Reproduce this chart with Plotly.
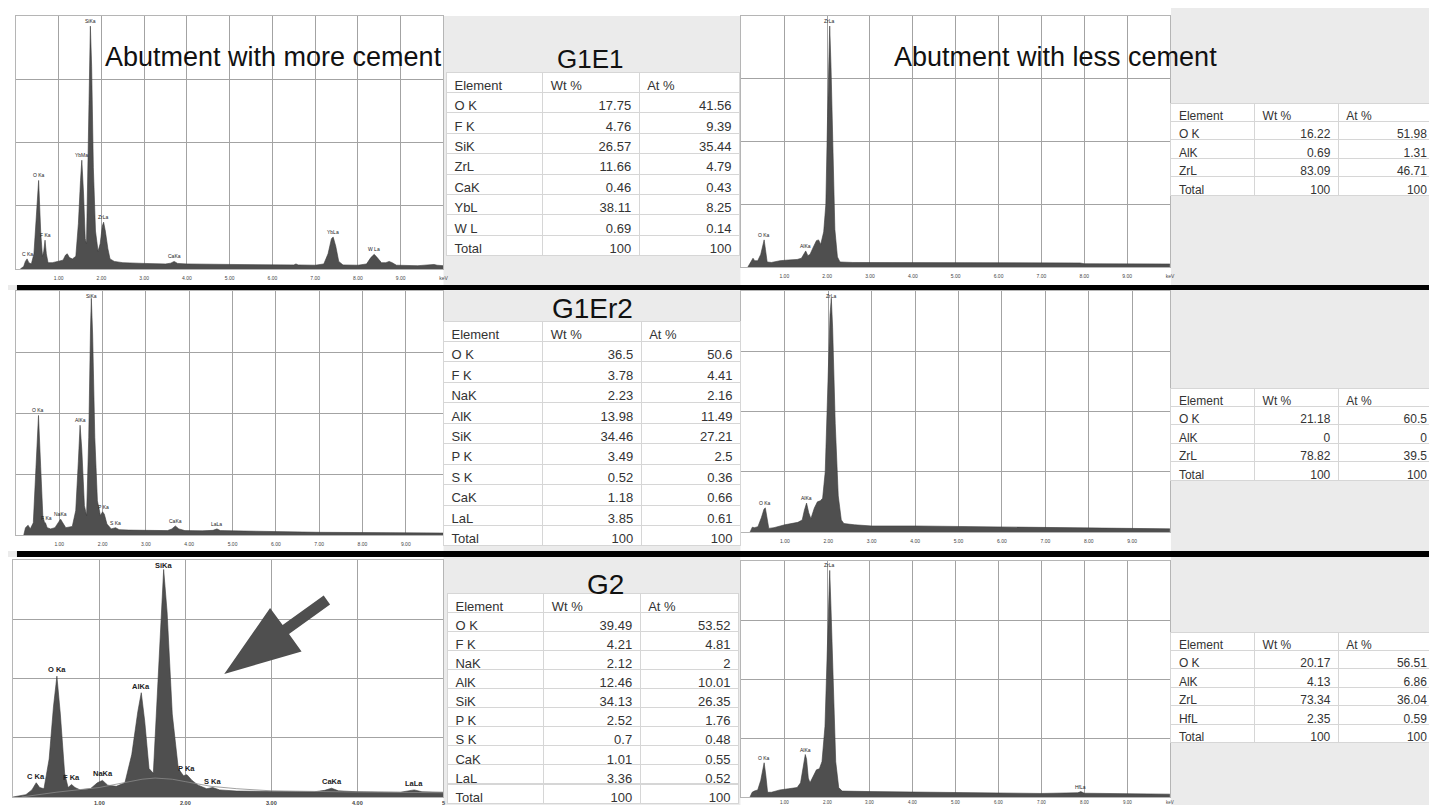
import plotly.graph_objects as go

W, H = 1437, 805
FONT = "Liberation Sans, Arial, sans-serif"

# ---------------- spectra data (keV, relative intensity % of full scale) ----------------
l1_kev = [0.10, 0.18, 0.22, 0.26, 0.30, 0.36, 0.42, 0.47, 0.53, 0.58, 0.62, 0.65, 0.68, 0.71, 0.75, 0.85,
          1.00, 1.10, 1.16, 1.20, 1.25, 1.32, 1.40, 1.46, 1.51, 1.54, 1.58, 1.62, 1.65, 1.69, 1.72, 1.74,
          1.77, 1.81, 1.86, 1.92, 1.97, 2.02, 2.05, 2.09, 2.15, 2.20, 2.30, 2.50, 3.00, 3.50, 3.62, 3.70,
          3.78, 4.00, 5.00, 6.00, 6.50, 6.55, 6.60, 7.00, 7.20, 7.30, 7.38, 7.42, 7.48, 7.55, 7.65, 8.00,
          8.20, 8.30, 8.38, 8.45, 8.55, 8.65, 8.73, 8.80, 8.90, 9.40, 9.70, 9.78, 9.85, 10.0]
l1_cnt = [0, 1, 3, 4, 2.5, 2, 6, 20, 35, 14, 5, 7, 11.4, 6, 2.5, 2.5,
          3, 3.5, 5.5, 6, 4.5, 4, 5, 18, 35, 43, 30, 12, 10, 45, 85, 96,
          80, 40, 15, 7, 10, 17, 18.5, 15, 8, 4, 3, 2.5, 2.2, 2, 2.3, 3,
          2.2, 2, 1.8, 1.6, 1.6, 2, 1.6, 1.5, 2, 6, 12, 12.6, 9, 3, 1.6, 1.5,
          2, 4.5, 5.8, 4.5, 2.5, 2.5, 3, 2.5, 1.5, 1.3, 1.5, 1.8, 1.5, 1.3]

l2_kev = [0.18, 0.22, 0.28, 0.33, 0.40, 0.46, 0.52, 0.57, 0.62, 0.66, 0.68, 0.72, 0.80, 0.90, 0.98, 1.03,
          1.08, 1.15, 1.30, 1.38, 1.44, 1.48, 1.52, 1.58, 1.63, 1.68, 1.72, 1.74, 1.77, 1.82, 1.88, 1.95,
          2.00, 2.04, 2.10, 2.20, 2.30, 2.38, 2.60, 3.00, 3.50, 3.60, 3.68, 3.76, 3.90, 4.30, 4.55, 4.64,
          4.72, 5.00, 6.00, 7.00, 8.00, 9.00, 9.87]
l2_cnt = [0, 3, 4, 2.5, 5, 25, 49, 28, 8, 5, 5, 3, 2.5, 3, 5, 6.5,
          5, 3, 3.5, 10, 30, 45, 35, 12, 8, 40, 84, 97, 82, 40, 14, 8,
          9.5, 8.5, 4.5, 2.5, 3, 2.2, 2, 2, 1.8, 2.5, 3.7, 2.5, 1.8, 1.7, 1.9, 2.5,
          1.8, 1.7, 1.3, 1.1, 1.0, 0.9, 0.8]

l3_kev = [0.00, 0.15, 0.22, 0.27, 0.31, 0.36, 0.42, 0.47, 0.51, 0.55, 0.60, 0.64, 0.68, 0.72, 0.78, 0.90,
          0.98, 1.04, 1.10, 1.20, 1.30, 1.38, 1.45, 1.49, 1.53, 1.58, 1.63, 1.67, 1.72, 1.75, 1.79, 1.85,
          1.92, 1.98, 2.02, 2.08, 2.15, 2.25, 2.32, 2.40, 2.60, 3.00, 3.50, 3.62, 3.70, 3.78, 4.00, 4.50,
          4.60, 4.66, 4.75, 5.00]
l3_cnt = [0, 1, 3, 6, 4, 3.5, 16, 38, 51, 35, 10, 4, 5.3, 4, 3, 3.5,
          6, 7, 5, 4.5, 6, 18, 36, 44, 32, 12, 10, 40, 80, 96, 78, 35,
          12, 9, 9.4, 7, 5, 3.5, 4, 3, 2.5, 2.3, 2.2, 2.8, 3.7, 2.6, 2.2, 2,
          2.6, 3, 2.2, 2]
l3_bg_kev = [0.10, 0.50, 1.00, 1.30, 1.50, 1.65, 1.85, 2.00, 2.30, 2.60, 3.00, 4.00, 5.00]
l3_bg_cnt = [0, 2, 4, 6, 7.5, 8, 7.5, 6.5, 4.5, 3.5, 2.6, 2.1, 1.8]

r1_kev = [0.15, 0.20, 0.27, 0.31, 0.38, 0.45, 0.50, 0.53, 0.56, 0.60, 0.70, 0.90, 1.10, 1.30, 1.40, 1.46,
          1.50, 1.55, 1.60, 1.68, 1.75, 1.80, 1.85, 1.92, 1.97, 2.01, 2.04, 2.06, 2.09, 2.13, 2.18, 2.24,
          2.30, 2.60, 3.00, 4.00, 5.00, 6.00, 7.00, 7.90, 8.00, 9.00, 10.0]
r1_cnt = [0, 1.5, 3.5, 2.5, 2.5, 5, 9, 10.8, 7, 2, 1.8, 2.5, 2.8, 3, 3.5, 5.5,
          6.4, 4.5, 5, 8, 10.5, 10.8, 9, 14, 25, 60, 90, 96, 80, 45, 15, 4,
          2, 1.8, 1.8, 1.8, 1.7, 1.6, 1.5, 1.6, 1.3, 1.2, 1.2]

r2_kev = [0.20, 0.25, 0.30, 0.38, 0.46, 0.52, 0.55, 0.59, 0.63, 0.75, 1.00, 1.30, 1.40, 1.45, 1.50, 1.55,
          1.60, 1.68, 1.75, 1.82, 1.87, 1.93, 1.99, 2.04, 2.07, 2.10, 2.16, 2.23, 2.30, 2.36, 2.60, 3.00,
          4.00, 5.00, 6.00, 7.00, 8.00, 9.00, 9.87]
r2_cnt = [0, 2, 1.8, 2.2, 6, 9.5, 10, 5, 1.5, 1.8, 3, 4, 5, 9, 12, 8,
          5.5, 10, 12.5, 13, 14, 25, 60, 90, 97, 85, 45, 15, 5, 3.5, 3, 2.5,
          2.5, 2.3, 2, 1.8, 1.6, 1.4, 1.3]

r3_kev = [0.20, 0.25, 0.30, 0.38, 0.45, 0.50, 0.53, 0.57, 0.61, 0.70, 0.90, 1.10, 1.30, 1.38, 1.44, 1.49,
          1.52, 1.56, 1.60, 1.68, 1.75, 1.82, 1.88, 1.95, 2.00, 2.04, 2.06, 2.09, 2.14, 2.20, 2.27, 2.35,
          3.00, 4.00, 5.00, 6.00, 7.00, 7.85, 7.92, 8.00, 9.00, 10.0]
r3_cnt = [0, 2, 2.5, 3, 7, 13, 14.5, 9, 2, 2, 3, 3.5, 4, 6, 13, 18,
          16, 8, 6, 9, 11.5, 12, 15, 30, 65, 90, 96, 80, 45, 15, 4, 2.5,
          2.3, 2.1, 1.9, 1.7, 1.5, 1.8, 2.3, 1.6, 1.3, 1.2]

# peak labels: (text, keV, intensity)
l1_peaks = [("C Ka", 0.26, 4), ("O Ka", 0.53, 35), ("F Ka", 0.68, 11.4), ("YbMa", 1.54, 43),
            ("SiKa", 1.74, 96), ("ZrLa", 2.05, 18.5), ("CaKa", 3.70, 3), ("YbLa", 7.42, 12.6),
            ("W La", 8.38, 5.8)]
l2_peaks = [("O Ka", 0.52, 49), ("F Ka", 0.70, 5), ("NaKa", 1.03, 6.5), ("AlKa", 1.48, 45),
            ("SiKa", 1.74, 96), ("P Ka", 2.01, 9.5), ("S Ka", 2.30, 3), ("CaKa", 3.68, 3.7),
            ("LaLa", 4.64, 2.5)]
l3_peaks = [("C Ka", 0.27, 6), ("O Ka", 0.51, 51), ("F Ka", 0.68, 5.3), ("NaKa", 1.04, 7),
            ("AlKa", 1.49, 44), ("SiKa", 1.75, 95), ("P Ka", 2.02, 9.4), ("S Ka", 2.32, 4),
            ("CaKa", 3.70, 3.7), ("LaLa", 4.66, 3)]
r1_peaks = [("O Ka", 0.53, 10.8), ("AlKa", 1.50, 6.4), ("ZrLa", 2.06, 96)]
r2_peaks = [("O Ka", 0.55, 10), ("AlKa", 1.50, 12), ("ZrLa", 2.07, 96)]
r3_peaks = [("O Ka", 0.53, 14.5), ("AlKa", 1.49, 18), ("ZrLa", 2.06, 96), ("HfLa", 7.92, 2.3)]

ticks10 = [1, 2, 3, 4, 5, 6, 7, 8, 9, 10]
ticks10_text = ["1.00", "2.00", "3.00", "4.00", "5.00", "6.00", "7.00", "8.00", "9.00", "keV"]
ticks5 = [1, 2, 3, 4, 5]
ticks5_text = ["1.00", "2.00", "3.00", "4.00", "5"]

# ---------------- tables ----------------
g1e1_el = ["O K", "F K", "SiK", "ZrL", "CaK", "YbL", "W L", "Total"]
g1e1_wt = [17.75, 4.76, 26.57, 11.66, 0.46, 38.11, 0.69, 100]
g1e1_at = [41.56, 9.39, 35.44, 4.79, 0.43, 8.25, 0.14, 100]

g1er2_el = ["O K", "F K", "NaK", "AlK", "SiK", "P K", "S K", "CaK", "LaL", "Total"]
g1er2_wt = [36.5, 3.78, 2.23, 13.98, 34.46, 3.49, 0.52, 1.18, 3.85, 100]
g1er2_at = [50.6, 4.41, 2.16, 11.49, 27.21, 2.5, 0.36, 0.66, 0.61, 100]

g2_el = ["O K", "F K", "NaK", "AlK", "SiK", "P K", "S K", "CaK", "LaL", "Total"]
g2_wt = [39.49, 4.21, 2.12, 12.46, 34.13, 2.52, 0.7, 1.01, 3.36, 100]
g2_at = [53.52, 4.81, 2, 10.01, 26.35, 1.76, 0.48, 0.55, 0.52, 100]

r1_el = ["O K", "AlK", "ZrL", "Total"]
r1_wt = [16.22, 0.69, 83.09, 100]
r1_at = [51.98, 1.31, 46.71, 100]

r2_el = ["O K", "AlK", "ZrL", "Total"]
r2_wt = [21.18, 0, 78.82, 100]
r2_at = [60.5, 0, 39.5, 100]

r3_el = ["O K", "AlK", "ZrL", "HfL", "Total"]
r3_wt = [20.17, 4.13, 73.34, 2.35, 100]
r3_at = [56.51, 6.86, 36.04, 0.59, 100]

headers = ["Element", "Wt %", "At %"]


def fx(p):
    return p / W


def fy(p):
    return 1 - p / H


fig = go.Figure()
shapes = []
annotations = []
layout = {}

BG = "#ebebeb"
# white backgrounds of spectrum panels
white_boxes = [(0, 0, 1167, 8), (0, 0, 437, 277), (0, 282, 437, 543), (0, 549, 437, 805),
               (735, 0, 1167, 277), (735, 282, 1167, 543), (735, 549, 1167, 805)]
for (a, b, c, d) in white_boxes:
    shapes.append(dict(type="rect", xref="paper", yref="paper", x0=fx(a), x1=fx(c), y0=fy(d), y1=fy(b),
                       fillcolor="white", line=dict(width=0), layer="below"))

panels = [
    dict(kev=l1_kev, cnt=l1_cnt, peaks=l1_peaks, box=(8, 437, 8, 261), xr=[0, 10], tv=ticks10, tt=ticks10_text, ls=5),
    dict(kev=l2_kev, cnt=l2_cnt, peaks=l2_peaks, box=(8, 437, 283, 527), xr=[0, 9.87], tv=ticks10[:-1], tt=ticks10_text[:-1], ls=5),
    dict(kev=l3_kev, cnt=l3_cnt, peaks=l3_peaks, box=(5, 437, 552, 789), xr=[0, 5], tv=ticks5, tt=ticks5_text, ls=7.5),
    dict(kev=r1_kev, cnt=r1_cnt, peaks=r1_peaks, box=(736, 1166, 8, 259), xr=[0, 10], tv=ticks10, tt=ticks10_text, ls=5),
    dict(kev=r2_kev, cnt=r2_cnt, peaks=r2_peaks, box=(736, 1166, 283, 524), xr=[0, 9.87], tv=ticks10[:-1], tt=ticks10_text[:-1], ls=5),
    dict(kev=r3_kev, cnt=r3_cnt, peaks=r3_peaks, box=(736, 1166, 553, 789), xr=[0, 10], tv=ticks10, tt=ticks10_text, ls=5),
]

for i, p in enumerate(panels):
    s = "" if i == 0 else str(i + 1)
    x0, x1, y0, y1 = p["box"]
    bottom_row = i in (2, 5)
    layout["xaxis" + s] = dict(domain=[fx(x0), fx(x1)], range=p["xr"], anchor="y" + s,
                               tickvals=p["tv"], ticktext=p["tt"], showticklabels=not bottom_row,
                               showgrid=True, gridcolor="#a3a3a3",
                               gridwidth=1, zeroline=False, showline=True, mirror=True, linecolor="#b5b5b5",
                               ticks="outside", ticklen=4, tickcolor="rgba(0,0,0,0)",
                               tickfont=dict(size=5, color="#444", family=FONT), fixedrange=True)
    layout["yaxis" + s] = dict(domain=[fy(y1), fy(y0)], range=[0, 100], anchor="x" + s,
                               tickvals=[25, 50, 75], showticklabels=False, showgrid=True,
                               gridcolor="#a3a3a3", gridwidth=1, zeroline=False, showline=True,
                               mirror=True, linecolor="#b5b5b5", fixedrange=True)
    if bottom_row:
        # tick labels of the bottom row drawn as annotations so they stay inside the picture
        for tv, tt in zip(p["tv"], p["tt"]):
            annotations.append(dict(text=("<b>%s</b>" % tt) if i == 2 else tt, x=tv, y=0, xref="x" + s,
                                    yref="y" + s, yanchor="top", xanchor="center", yshift=-1,
                                    showarrow=False, font=dict(size=5.5 if i == 2 else 4.5, color="#444", family=FONT)))
    fig.add_trace(go.Scatter(x=p["kev"], y=p["cnt"], mode="lines", fill="tozeroy",
                             fillcolor="#4f4f4f", line=dict(color="#3d3d3d", width=0.6),
                             xaxis="x" + s, yaxis="y" + s, hoverinfo="skip", showlegend=False))
    if i == 2:
        fig.add_trace(go.Scatter(x=l3_bg_kev, y=l3_bg_cnt, mode="lines", line=dict(color="#8a8a8a", width=0.8),
                                 xaxis="x3", yaxis="y3", hoverinfo="skip", showlegend=False))
    for (t, k, v) in p["peaks"]:
        annotations.append(dict(text=("<b>%s</b>" % t) if i == 2 else t, x=k, y=v, xref="x" + s, yref="y" + s,
                                yanchor="bottom", xanchor="center", yshift=0, showarrow=False,
                                font=dict(size=p["ls"], color="#222", family=FONT)))

# black separator bars
for (b, d) in [(277, 282), (543, 549)]:
    shapes.append(dict(type="rect", xref="paper", yref="paper", x0=fx(9), x1=1, y0=fy(d), y1=fy(b),
                       fillcolor="black", line=dict(width=0), layer="above"))

# arrow in bottom-left panel (pixel outline)
arrow_px = [(217, 666), (263, 600), (275.6, 617.1), (316.8, 587.5), (323.2, 596.5), (282, 626.1), (294.6, 643.5)]
path = "M " + " L ".join("%.5f,%.5f" % (fx(a), fy(b)) for a, b in arrow_px) + " Z"
shapes.append(dict(type="path", xref="paper", yref="paper", path=path, fillcolor="#4f4f4f",
                   line=dict(width=0), layer="above"))

# titles
titles = [("Abutment with more cement", 266, 49, 27), ("Abutment with less cement", 1051, 49, 27),
          ("G1E1", 585, 51, 26), ("G1Er2", 587, 300, 28), ("G2", 600, 576, 28)]
for (t, x, y, sz) in titles:
    annotations.append(dict(text=t, x=fx(x), y=fy(y), xref="paper", yref="paper", xanchor="center",
                            yanchor="middle", showarrow=False, font=dict(size=sz, color="#111", family=FONT)))


def fmt(vals):
    return ["%g" % v for v in vals]


tables = [
    (g1e1_el, g1e1_wt, g1e1_at, (440, 735, 64), [97, 97, 101], 20.4, 13),
    (g1er2_el, g1er2_wt, g1er2_at, (437, 736, 313), [100, 99, 100], 20.45, 13),
    (g2_el, g2_wt, g2_at, (441, 734, 585), [97, 97, 99], 19.1, 13),
    (r1_el, r1_wt, r1_at, (1167, 1432, 95), [84, 84, 97], 18.4, 12),
    (r2_el, r2_wt, r2_at, (1167, 1432, 380), [84, 84, 97], 18.4, 12),
    (r3_el, r3_wt, r3_at, (1167, 1432, 624), [84, 84, 97], 18.4, 12),
]
for (el, wt, at, (a, b, top), cw, rh, fs) in tables:
    bottom = min(H - 1, top + rh * (len(el) + 1) + 3)
    fig.add_trace(go.Table(
        domain=dict(x=[fx(a), fx(b)], y=[fy(bottom), fy(top)]),
        columnwidth=cw,
        header=dict(values=headers, align="left", fill_color="white", line_color="#d6d6d6",
                    font=dict(size=fs, color="#333", family=FONT), height=rh),
        cells=dict(values=[el, fmt(wt), fmt(at)], align=["left", "right", "right"], fill_color="white",
                   line_color="#d6d6d6", font=dict(size=fs, color="#333", family=FONT), height=rh),
    ))

fig.update_layout(width=W, height=H, margin=dict(l=0, r=0, t=0, b=0), autosize=False,
                  paper_bgcolor=BG, plot_bgcolor="white", showlegend=False,
                  shapes=shapes, annotations=annotations, **layout)
fig.write_html("out.html")
